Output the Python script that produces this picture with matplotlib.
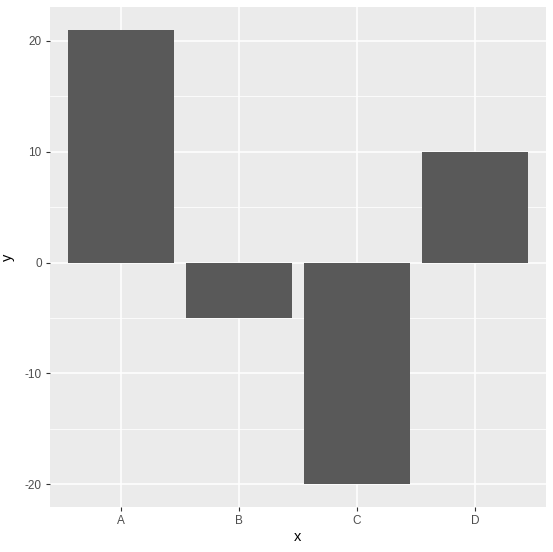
import matplotlib
matplotlib.use("Agg")
import matplotlib.pyplot as plt
from matplotlib.ticker import MultipleLocator

plt.rcParams['font.family'] = ['Liberation Sans', 'DejaVu Sans']

categories = ["A", "B", "C", "D"]
values = [21, -5, -20, 10]
y_ticks = [-20, -10, 0, 10, 20]

W, H = 553, 552
fig = plt.figure(figsize=(W / 100, H / 100), dpi=100)
left, right, top, bottom = 50, 546, 7, 507
ax = fig.add_axes([left / W, 1 - bottom / H, (right - left) / W, (bottom - top) / H])
ax.set_facecolor("#EBEBEB")

x = list(range(1, len(categories) + 1))
ax.bar(x, values, width=0.9, color="#595959", zorder=3)

ymin, ymax = min(values + [0]), max(values + [0])
pad = 0.05 * (ymax - ymin)
ax.set_ylim(ymin - pad, ymax + pad)
ax.set_xlim(0.4, len(categories) + 0.6)

ax.set_xticks(x)
ax.set_xticklabels(categories)
ax.set_yticks(y_ticks)
ax.set_yticklabels([str(v) for v in y_ticks])
ax.yaxis.set_minor_locator(MultipleLocator(5))

ax.grid(which="major", color="white", linewidth=1.1, zorder=1)
ax.grid(which="minor", axis="y", color="white", linewidth=0.55, zorder=1)
ax.set_axisbelow(True)

for s in ax.spines.values():
    s.set_visible(False)

ax.tick_params(axis="both", which="major", length=3, width=0.8, color="#333333",
               labelcolor="#4D4D4D", labelsize=8.5, pad=3)
ax.tick_params(axis="both", which="minor", length=0)

ax.set_xlabel("x", fontsize=10.5, color="black", labelpad=2)
ax.set_ylabel("y", fontsize=10.5, color="black", labelpad=7)

fig.savefig("out.png", dpi=100, facecolor="white")
